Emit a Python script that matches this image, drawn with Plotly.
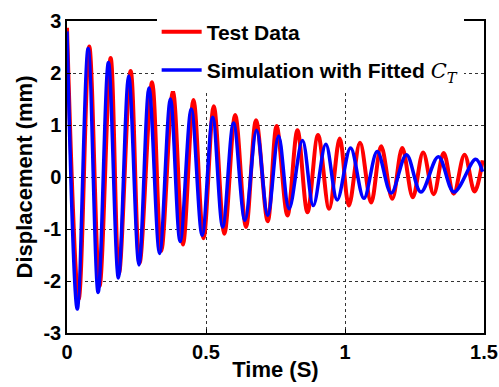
import plotly.graph_objects as go

# Extrema of the measured response (time in s, displacement in mm)
t_test = [0.000, 0.042, 0.080, 0.117, 0.157, 0.187, 0.229, 0.261, 0.306, 0.339,
          0.381, 0.417, 0.455, 0.491, 0.528, 0.566, 0.605, 0.644, 0.680, 0.722,
          0.754, 0.793, 0.829, 0.865, 0.903, 0.943, 0.981, 1.014, 1.054, 1.094,
          1.130, 1.170, 1.206, 1.244, 1.281, 1.319, 1.355, 1.391, 1.430, 1.466, 1.495]
d_test = [2.87, -2.35, 2.51, -2.10, 2.29, -1.85, 2.04, -1.65, 1.82, -1.42,
          1.65, -1.30, 1.48, -1.18, 1.36, -1.09, 1.19, -0.96, 1.09, -0.85,
          0.98, -0.74, 0.90, -0.68, 0.81, -0.61, 0.74, -0.55, 0.66, -0.49,
          0.59, -0.42, 0.56, -0.39, 0.47, -0.33, 0.46, -0.32, 0.43, -0.28, 0.32]

# Extrema of the simulation with fitted C_T
t_sim = [0.000, 0.037, 0.076, 0.112, 0.149, 0.185, 0.222, 0.259, 0.295, 0.333,
         0.372, 0.407, 0.447, 0.486, 0.524, 0.560, 0.599, 0.640, 0.682, 0.722,
         0.761, 0.799, 0.847, 0.886, 0.931, 0.972, 1.020, 1.068, 1.116, 1.166,
         1.221, 1.273, 1.336, 1.392, 1.470, 1.495]
d_sim = [2.80, -2.54, 2.47, -2.22, 2.20, -1.94, 1.94, -1.69, 1.71, -1.47,
         1.50, -1.24, 1.31, -1.12, 1.15, -0.96, 1.04, -0.83, 0.90, -0.74,
         0.79, -0.61, 0.70, -0.55, 0.63, -0.44, 0.56, -0.41, 0.49, -0.31,
         0.43, -0.29, 0.39, -0.29, 0.34, 0.10]

x_ticks = [0, 0.5, 1, 1.5]
x_labels = ["0", "0.5", "1", "1.5"]
y_ticks = [-3, -2, -1, 0, 1, 2, 3]
y_labels = ["-3", "-2", "-1", "0", "1", "2", "3"]

FONT = "Liberation Sans, Arial, sans-serif"

fig = go.Figure()
fig.add_trace(go.Scatter(
    x=t_test, y=d_test, mode="lines", name="<b>Test Data</b>",
    line=dict(color="#ff0000", width=4, shape="spline", smoothing=1.0),
    legendgroup="a"))
fig.add_trace(go.Scatter(
    x=t_sim, y=d_sim, mode="lines",
    name="<b>Simulation with Fitted </b><span style='font-family:DejaVu Serif'><i>C</i><sub><i>T</i></sub></span>",
    line=dict(color="#0000ff", width=3.5, shape="spline", smoothing=1.0),
    legendgroup="b"))

axis_common = dict(
    showline=True, linecolor="black", linewidth=1.5, mirror=True,
    ticks="inside", ticklen=4, tickcolor="black",
    showgrid=True, gridcolor="#333333", gridwidth=1, griddash="dot",
    zeroline=False, automargin=False,
    tickfont=dict(family=FONT, size=20, color="black"),
)

fig.update_layout(
    width=499, height=387,
    margin=dict(l=67, r=15, t=16, b=54),
    paper_bgcolor="white", plot_bgcolor="white",
    font=dict(family=FONT, color="black"),
    xaxis=dict(range=[0, 1.5], tickvals=x_ticks, ticktext=["<b>%s</b>" % s for s in x_labels],
               title=dict(text="<b>Time (S)</b>", font=dict(family=FONT, size=22), standoff=0),
               **axis_common),
    yaxis=dict(range=[-3, 3], tickvals=y_ticks, ticktext=["<b>%s</b>" % s for s in y_labels],
               title=dict(text="<b>Displacement (mm)</b>", font=dict(family=FONT, size=22), standoff=5),
               **axis_common),
    legend=dict(x=0.215, y=1.03, xanchor="left", yanchor="top",
                bgcolor="white", borderwidth=0,
                font=dict(family=FONT, size=21, color="black"),
                traceorder="grouped", tracegroupgap=8,
                itemwidth=40),
)

fig.write_html("out.html")
